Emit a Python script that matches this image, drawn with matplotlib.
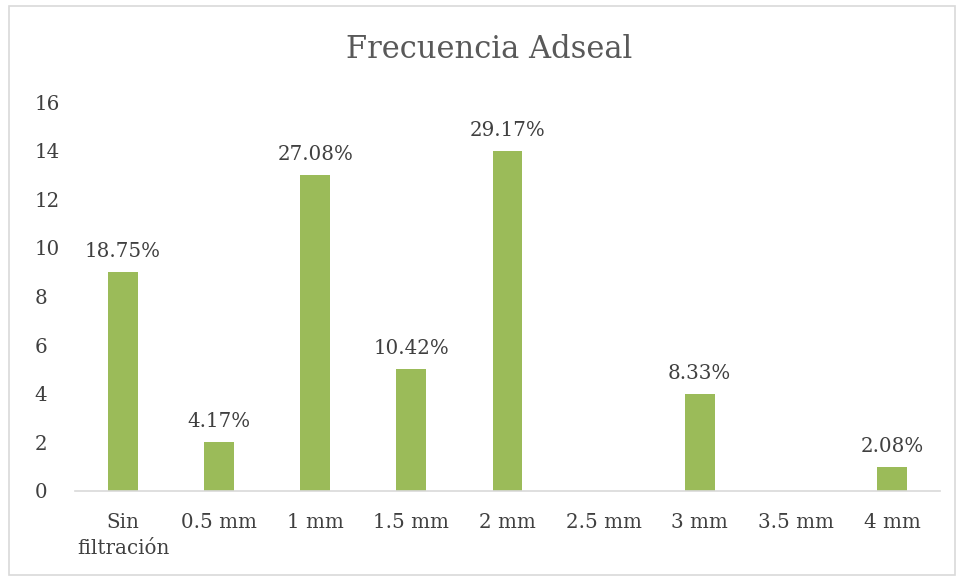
import matplotlib
matplotlib.use("Agg")
import matplotlib.pyplot as plt
from matplotlib.patches import Rectangle

categories = ["Sin\nfiltración", "0.5 mm", "1 mm", "1.5 mm", "2 mm", "2.5 mm", "3 mm", "3.5 mm", "4 mm"]
values = [9, 2, 13, 5, 14, 0, 4, 0, 1]
labels = ["18.75%", "4.17%", "27.08%", "10.42%", "29.17%", "", "8.33%", "", "2.08%"]
yticks = [0, 2, 4, 6, 8, 10, 12, 14, 16]

plt.rcParams['font.family'] = ['DejaVu Serif']
text_color = "#404040"

fig = plt.figure(figsize=(9.61, 5.77), dpi=100)
ax = fig.add_axes([75/961, 1 - 491/577, 865/961, (491-102)/577])

x = list(range(len(categories)))
bars = ax.bar(x, values, width=0.31, color="#9BBB59", zorder=2)
for xi, v, lab in zip(x, values, labels):
    if lab:
        ax.annotate(lab, (xi, v), xytext=(0, 8), textcoords="offset points",
                    ha="center", va="bottom", fontsize=14.3, color=text_color)

ax.set_xlim(-0.5, len(categories) - 0.5)
ax.set_ylim(0, 16)
ax.set_yticks(yticks)
ax.set_yticklabels([str(t) for t in yticks])
ax.set_xticks(x)
ax.set_xticklabels(categories, linespacing=1.45)
ax.tick_params(axis='both', length=0, labelsize=14.3, colors=text_color)
ax.tick_params(axis='y', pad=29)
ax.tick_params(axis='x', pad=16)
for lbl in ax.get_yticklabels():
    lbl.set_horizontalalignment('left')
for s in ["top", "right", "left"]:
    ax.spines[s].set_visible(False)
ax.spines["bottom"].set_color("#D9D9D9")
ax.spines["bottom"].set_linewidth(1.2)

fig.text(489/961, 1 - 49/577, "Frecuencia Adseal", ha="center", va="center",
         fontsize=22, color="#595959")

fig.patches.append(Rectangle((9/961, 1 - 575/577), 946/961, 569/577, transform=fig.transFigure,
                             fill=False, edgecolor="#D9D9D9", linewidth=1.2))

fig.savefig("out.png", dpi=100)
